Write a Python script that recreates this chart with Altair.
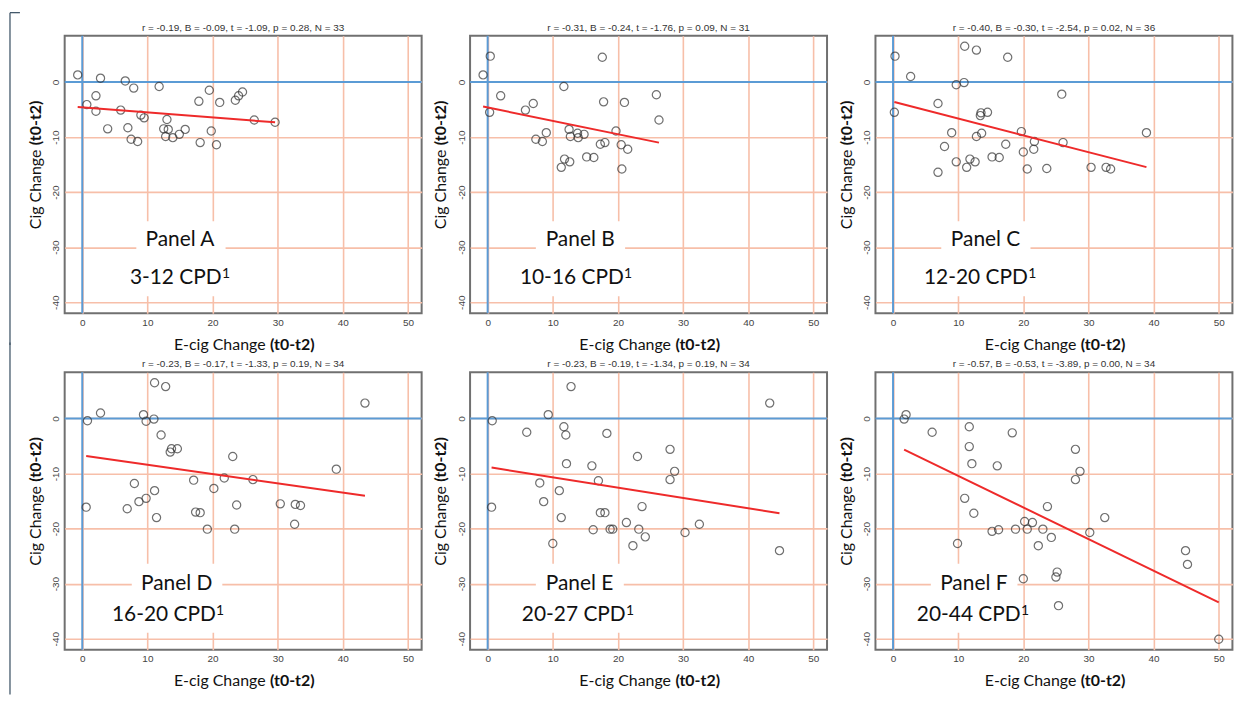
import altair as alt
import pandas as pd

# ---------------- data ----------------
A_x = [-0.7, 2.8, 6.6, 7.9, 11.8, 19.5, 2.1, 0.7, 2.1, 5.9, 17.9, 21.1, 23.5, 24.0, 24.6, 26.4, 29.6,
       9.0, 9.5, 13.0, 3.9, 7.0, 7.5, 8.5, 12.5, 13.2, 12.8, 13.9, 14.9, 15.8, 18.1, 19.8, 20.6]
A_y = [1.3, 0.7, 0.2, -1.1, -0.8, -1.5, -2.5, -4.1, -5.3, -5.1, -3.5, -3.7, -3.3, -2.5, -1.8, -6.9, -7.3,
       -6.0, -6.5, -6.8, -8.5, -8.3, -10.4, -10.8, -8.5, -8.6, -9.9, -10.1, -9.5, -8.6, -11.0, -8.9, -11.4]

B_x = [-0.7, 0.4, 17.6, 11.7, 2.0, 25.9, 0.3, 5.8, 7.0, 17.8, 21.0, 26.3, 9.0, 7.4, 8.4, 12.5, 12.7,
       13.8, 13.9, 14.8, 19.7, 17.3, 18.0, 20.5, 21.5, 11.8, 12.6, 11.3, 15.2, 16.3, 20.6]
B_y = [1.3, 4.7, 4.5, -0.8, -2.5, -2.3, -5.5, -5.1, -3.9, -3.6, -3.7, -6.9, -9.2, -10.4, -10.8, -8.6, -9.9,
       -9.3, -10.1, -9.5, -8.9, -11.3, -11.0, -11.4, -12.2, -14.0, -14.5, -15.5, -13.6, -13.7, -15.8]

C_x = [0.3, 11.0, 12.8, 17.6, 2.7, 9.7, 10.9, 0.2, 6.9, 25.9, 13.5, 13.4, 14.5, 9.0, 13.6, 12.8, 19.7,
       38.9, 7.9, 17.3, 21.7, 26.1, 20.0, 21.6, 9.7, 11.8, 12.6, 11.3, 15.2, 16.3, 6.9, 20.6, 23.6,
       30.4, 32.7, 33.4]
C_y = [4.7, 6.5, 5.8, 4.5, 1.0, -0.5, -0.1, -5.5, -3.9, -2.2, -5.6, -6.1, -5.5, -9.2, -9.3, -9.9, -9.0,
       -9.2, -11.7, -11.3, -10.8, -11.0, -12.7, -12.2, -14.5, -14.0, -14.5, -15.5, -13.6, -13.7, -16.4,
       -15.8, -15.7, -15.5, -15.5, -15.8]

D_x = [11.1, 12.8, 43.4, 2.8, 9.4, 11.0, 9.8, 0.8, 12.1, 13.7, 13.5, 14.6, 23.1, 39.0, 21.8, 26.2, 17.1,
       8.0, 20.2, 11.1, 9.8, 8.7, 0.6, 6.9, 23.7, 30.4, 32.7, 33.5, 17.4, 18.1, 11.4, 32.6, 19.2, 23.4]
D_y = [6.5, 5.8, 2.8, 1.0, 0.7, -0.1, -0.5, -0.4, -3.0, -5.5, -6.1, -5.5, -6.9, -9.2, -10.8, -11.1, -11.2,
       -11.8, -12.7, -13.1, -14.5, -15.1, -16.1, -16.4, -15.7, -15.5, -15.6, -15.8, -17.0, -17.1, -18.0,
       -19.2, -20.1, -20.1]

E_x = [12.8, 43.3, 9.3, 0.7, 11.7, 12.0, 6.0, 18.3, 28.0, 23.0, 12.1, 16.0, 28.7, 28.0, 17.0, 8.0, 11.0,
       8.6, 0.6, 23.7, 17.3, 18.0, 11.3, 21.3, 16.2, 18.8, 19.2, 23.2, 24.2, 30.3, 32.5, 10.0, 22.3, 44.8]
E_y = [5.8, 2.8, 0.7, -0.4, -1.5, -3.0, -2.5, -2.7, -5.6, -6.9, -8.2, -8.6, -9.6, -11.1, -11.3, -11.7,
       -13.1, -15.1, -16.1, -16.0, -17.1, -17.1, -18.0, -18.9, -20.2, -20.1, -20.1, -20.1, -21.5, -20.7,
       -19.2, -22.7, -23.1, -24.0]

F_x = [2.0, 1.7, 6.0, 11.7, 18.3, 11.7, 12.1, 16.0, 28.0, 28.7, 28.0, 11.0, 12.4, 23.7, 32.5, 20.2, 20.6,
       21.4, 15.2, 16.2, 18.8, 23.0, 24.3, 30.2, 9.9, 22.3, 44.9, 45.2, 25.2, 25.0, 20.0, 25.4, 50.0]
F_y = [0.7, -0.1, -2.5, -1.5, -2.6, -5.1, -8.2, -8.6, -5.6, -9.6, -11.1, -14.5, -17.2, -16.0, -18.0, -18.7,
       -20.1, -18.9, -20.5, -20.2, -20.1, -20.1, -21.6, -20.7, -22.7, -23.1, -24.0, -26.5, -27.9, -28.8,
       -29.1, -34.0, -40.1]

STATS = [
    "r = -0.19, B = -0.09, t = -1.09, p =  0.28, N = 33",
    "r = -0.31, B = -0.24, t = -1.76, p =  0.09, N = 31",
    "r = -0.40, B = -0.30, t = -2.54, p =  0.02, N = 36",
    "r = -0.23, B = -0.17, t = -1.33, p =  0.19, N = 34",
    "r = -0.23, B = -0.19, t = -1.34, p =  0.19, N = 34",
    "r = -0.57, B = -0.53, t = -3.89, p =  0.00, N = 34",
]
PANEL_NAMES = ["Panel A", "Panel B", "Panel C", "Panel D", "Panel E", "Panel F"]
PANEL_CPD = ["3-12 CPD", "10-16 CPD", "12-20 CPD", "16-20 CPD", "20-27 CPD", "20-44 CPD"]
FOOTNOTE = "1"

X_TICKS = [0, 10, 20, 30, 40, 50]
Y_TICKS = [0, -10, -20, -30, -40]

# annotation placement (data units):
# line1 centre x, line1 y, line2 right end x, line2 y, box x1, x2, y1, y2
LABEL_POS = [
    (15.0, -28.7, 21.4, -35.6, 8.3, 22.0, -25.3, -38.9),
    (14.2, -28.7, 20.9, -35.6, 7.4, 21.1, -25.3, -38.9),
    (14.2, -28.7, 20.7, -35.6, 7.4, 21.1, -25.3, -38.9),
    (14.5, -30.1, 20.5, -35.7, 7.6, 21.5, -26.4, -38.9),
    (14.1, -30.1, 21.2, -35.7, 7.4, 20.9, -26.4, -38.9),
    (12.4, -30.1, 19.6, -35.7, 5.8, 19.1, -26.4, -38.9),
]

XS = [A_x, B_x, C_x, D_x, E_x, F_x]
YS = [A_y, B_y, C_y, D_y, E_y, F_y]

W, H = 359, 279
X_DOMAIN = [-2.7, 52.1]
Y_DOMAIN = [-42.0, 8.4]

BLUE = "#5b9bd5"
GRID = "#f7bfa9"
RED = "#ee2a2a"
FONT = "Lato"
SMALL = "Liberation Sans"


def txt(text, x, y, **kw):
    return alt.Chart(pd.DataFrame({"t": [text]})).mark_text(**kw).encode(
        x=alt.value(x), y=alt.value(y), text="t:N")


def panel(i):
    df = pd.DataFrame({"x": XS[i], "y": YS[i]})
    xsc = alt.Scale(domain=X_DOMAIN, nice=False, zero=False)
    ysc = alt.Scale(domain=Y_DOMAIN, nice=False, zero=False)
    xax = alt.Axis(values=X_TICKS, title=None, ticks=False, domain=False, labelPadding=4,
                   labelFont=SMALL, labelFontSize=10, labelColor="#444", labelFlush=False,
                   grid=True, gridColor=GRID, gridWidth=1.6)
    yax = alt.Axis(values=Y_TICKS, title=None, ticks=False, domain=False, labelPadding=4,
                   labelAngle=270, labelAlign="center", labelBaseline="bottom",
                   labelExpr="'' + datum.value", labelFont=SMALL, labelFontSize=10,
                   labelColor="#444", labelFlush=False,
                   grid=True, gridColor=GRID, gridWidth=1.6)

    lx, ly1, lx2, ly2, bx1, bx2, by1, by2 = LABEL_POS[i]

    pts = alt.Chart(df).mark_point(shape="circle", filled=False, size=68, color="#333",
                                   strokeWidth=1.2).encode(
        x=alt.X("x:Q", scale=xsc, axis=xax),
        y=alt.Y("y:Q", scale=ysc, axis=yax),
    )
    box = alt.Chart(pd.DataFrame({"x1": [bx1], "x2": [bx2], "y1": [by1], "y2": [by2]})).mark_rect(
        color="white").encode(x="x1:Q", x2="x2:Q", y="y1:Q", y2="y2:Q")
    vline = alt.Chart(pd.DataFrame({"v": [0]})).mark_rule(color=BLUE, strokeWidth=2).encode(x="v:Q")
    hline = alt.Chart(pd.DataFrame({"v": [0]})).mark_rule(color=BLUE, strokeWidth=2).encode(y="v:Q")
    reg = alt.Chart(df).transform_regression("x", "y").mark_line(color=RED, strokeWidth=2).encode(
        x="x:Q", y="y:Q")
    line1 = alt.Chart(pd.DataFrame({"x": [lx], "y": [ly1], "t": [PANEL_NAMES[i]]})).mark_text(
        font=FONT, fontSize=21, color="#111", baseline="middle", align="center").encode(
        x="x:Q", y="y:Q", text="t:N")
    line2 = alt.Chart(pd.DataFrame({"x": [lx2], "y": [ly2], "t": [PANEL_CPD[i]]})).mark_text(
        font=FONT, fontSize=21, color="#111", baseline="middle", align="right").encode(
        x="x:Q", y="y:Q", text="t:N")
    sup = alt.Chart(pd.DataFrame({"x": [lx2], "y": [ly2], "t": [FOOTNOTE]})).mark_text(
        font=FONT, fontSize=14, color="#111", baseline="middle", align="left", dx=0.3, dy=-4).encode(
        x="x:Q", y="y:Q", text="t:N")

    # statistics line above the plot
    stat = txt(STATS[i], W / 2, -8.3, font=SMALL, fontSize=10, color="#333",
               align="center", baseline="middle")
    # axis titles with mixed weights
    xt1 = txt("E-cig Change", 202, H + 31.5, font=FONT, fontSize=16, color="#111",
              align="right", baseline="middle")
    xt2 = txt("(t0-t2)", 206.5, H + 31.5, font=FONT, fontSize=16, fontWeight="bold",
              color="#111", align="left", baseline="middle")
    yt1 = txt("Cig Change", -29, 114.5, font=FONT, fontSize=16, color="#111",
              align="right", baseline="middle", angle=270)
    yt2 = txt("(t0-t2)", -29, 110, font=FONT, fontSize=16, fontWeight="bold", color="#111",
              align="left", baseline="middle", angle=270)

    layers = [vline, hline, box, pts, reg, line1, line2, sup, stat, xt1, xt2, yt1, yt2]

    if i == 0:
        deco_v = alt.Chart(pd.DataFrame({"t": [1]})).mark_rule(color="#44596b", strokeWidth=1.3).encode(
            x=alt.value(-55), y=alt.value(-23.3), y2=alt.value(H + 32))
        deco_h = alt.Chart(pd.DataFrame({"t": [1]})).mark_rule(color="#44596b", strokeWidth=1.3).encode(
            x=alt.value(-55), x2=alt.value(-45), y=alt.value(-23.3))
        layers += [deco_v, deco_h]
    if i == 3:
        deco_v = alt.Chart(pd.DataFrame({"t": [1]})).mark_rule(color="#44596b", strokeWidth=1.3).encode(
            x=alt.value(-55), y=alt.value(-30), y2=alt.value(H + 45))
        layers += [deco_v]

    return alt.layer(*layers).properties(width=W, height=H)


chart = alt.concat(*[panel(i) for i in range(6)], columns=3,
                   spacing={"row": 59.4, "column": 48.7}, bounds="flush").properties(
    padding={"left": 0, "top": 1, "right": 2, "bottom": 0},
    background="white",
).configure_view(stroke="#707070", strokeWidth=2)

chart.save("out.html", embed_options={"renderer": "svg", "actions": False})
